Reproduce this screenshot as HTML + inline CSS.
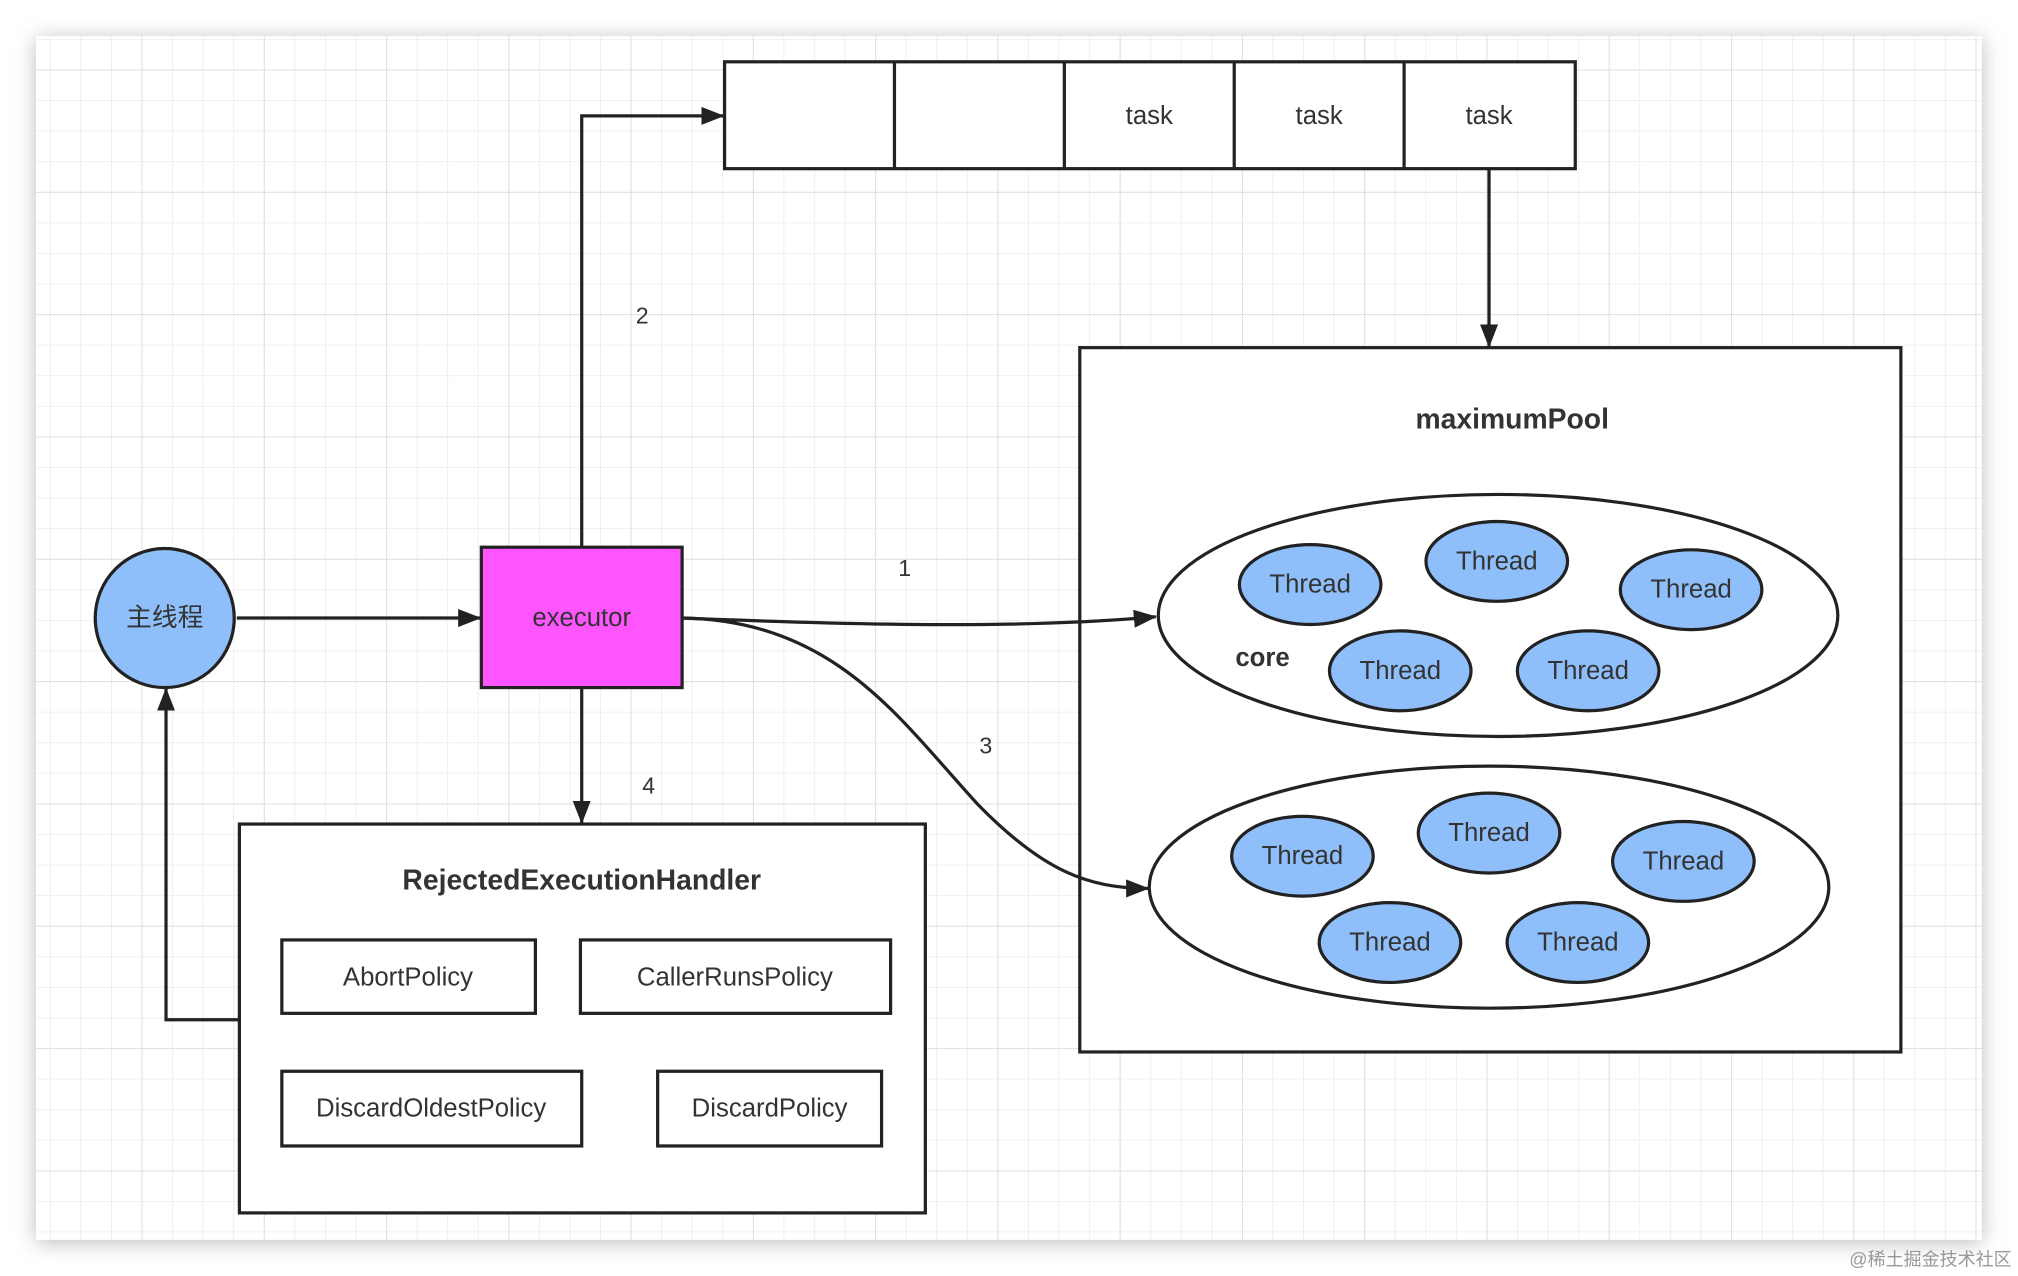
<!DOCTYPE html>
<html><head><meta charset="utf-8"><style>
html,body{margin:0;padding:0;background:#fff;}
svg{display:block;}
text{font-family:"Liberation Sans","Noto Sans CJK SC",sans-serif;fill:#333;}
</style></head><body>
<svg width="2018" height="1276" viewBox="0 0 1568 991" preserveAspectRatio="none" xmlns="http://www.w3.org/2000/svg">
<defs>
<pattern id="minor" x="15" y="54" width="23.75" height="23.75" patternUnits="userSpaceOnUse">
<path d="M0 0H23.75M0 0V23.75" stroke="#ebebeb" stroke-width="1.2" fill="none"/>
</pattern>
<pattern id="major" x="15" y="54" width="95" height="95" patternUnits="userSpaceOnUse">
<path d="M0 0H95M0 0V95" stroke="#dedede" stroke-width="1.4" fill="none"/>
</pattern>
<filter id="sh" x="-5%" y="-5%" width="110%" height="110%"><feGaussianBlur stdDeviation="8"/></filter>
<marker id="ar" markerWidth="18" markerHeight="14" refX="17" refY="7" orient="auto" markerUnits="userSpaceOnUse">
<path d="M0 0L18 7L0 14Z" fill="#222"/>
</marker>
</defs>
<rect x="0" y="0" width="1568" height="991" fill="#fff"/>
<rect x="28" y="30" width="1512" height="935" fill="#bbb" filter="url(#sh)"/>
<rect x="28" y="28" width="1512" height="935" fill="#fff"/>
<rect x="28" y="28" width="1512" height="935" fill="url(#minor)"/>
<rect x="28" y="28" width="1512" height="935" fill="url(#major)"/>
<text x="1500" y="983" font-size="14" text-anchor="middle" style="fill:#999">@稀土掘金技术社区</text>

<g stroke="#222" stroke-width="2.5" fill="none">
<rect x="563" y="48" width="661" height="83" fill="#fff"/>
<path d="M695 48V131M827 48V131M959 48V131M1091 48V131"/>
<path d="M452 425V90H562" marker-end="url(#ar)"/>
<path d="M1157 131V269" marker-end="url(#ar)"/>
<rect x="839" y="270" width="638" height="547" fill="#fff"/>
<ellipse cx="1164" cy="478" rx="264" ry="94" fill="#fff"/>
<ellipse cx="1157" cy="689" rx="264" ry="94" fill="#fff"/>
<path d="M184 480H373" marker-end="url(#ar)"/>
<path d="M530 480C680 486 800 488 898 479" marker-end="url(#ar)"/>
<path d="M530 480C650 482 700 560 760 625C810 676 845 690 892 690" marker-end="url(#ar)"/>
<path d="M452 534V639" marker-end="url(#ar)"/>
<rect x="186" y="640" width="533" height="302" fill="#fff"/>
<rect x="219" y="730" width="197" height="57" fill="#fff"/>
<rect x="451" y="730" width="241" height="57" fill="#fff"/>
<rect x="219" y="832" width="233" height="58" fill="#fff"/>
<rect x="511" y="832" width="174" height="58" fill="#fff"/>
<path d="M186 792H129V535" marker-end="url(#ar)"/>
<circle cx="128" cy="480" r="54" fill="#8fbffa"/>
<rect x="374" y="425" width="156" height="109" fill="#ff55ff"/>
<g fill="#8fbffa">
<ellipse cx="1018" cy="454" rx="55" ry="31"/>
<ellipse cx="1163" cy="436" rx="55" ry="31"/>
<ellipse cx="1314" cy="458" rx="55" ry="31"/>
<ellipse cx="1088" cy="521" rx="55" ry="31"/>
<ellipse cx="1234" cy="521" rx="55" ry="31"/>
<ellipse cx="1012" cy="665" rx="55" ry="31"/>
<ellipse cx="1157" cy="647" rx="55" ry="31"/>
<ellipse cx="1308" cy="669" rx="55" ry="31"/>
<ellipse cx="1080" cy="732" rx="55" ry="31"/>
<ellipse cx="1226" cy="732" rx="55" ry="31"/>
</g>
</g>

<g font-size="20" text-anchor="middle" dominant-baseline="central">
<text x="893" y="90">task</text>
<text x="1025" y="90">task</text>
<text x="1157" y="90">task</text>
<text x="499" y="245" font-size="18">2</text>
<text x="703" y="441" font-size="18">1</text>
<text x="766" y="579" font-size="18">3</text>
<text x="504" y="610" font-size="18">4</text>
<text x="1175" y="326" font-weight="bold" font-size="22">maximumPool</text>
<text x="981" y="511" font-weight="bold" font-size="20">core</text>
<text x="1018" y="454">Thread</text>
<text x="1163" y="436">Thread</text>
<text x="1314" y="458">Thread</text>
<text x="1088" y="521">Thread</text>
<text x="1234" y="521">Thread</text>
<text x="1012" y="665">Thread</text>
<text x="1157" y="647">Thread</text>
<text x="1308" y="669">Thread</text>
<text x="1080" y="732">Thread</text>
<text x="1226" y="732">Thread</text>
<text x="128" y="480">主线程</text>
<text x="452" y="480">executor</text>
<text x="452" y="684" font-weight="bold" font-size="22">RejectedExecutionHandler</text>
<text x="317" y="759">AbortPolicy</text>
<text x="571" y="759">CallerRunsPolicy</text>
<text x="335" y="861">DiscardOldestPolicy</text>
<text x="598" y="861">DiscardPolicy</text>
</g>
</svg>
</body></html>
